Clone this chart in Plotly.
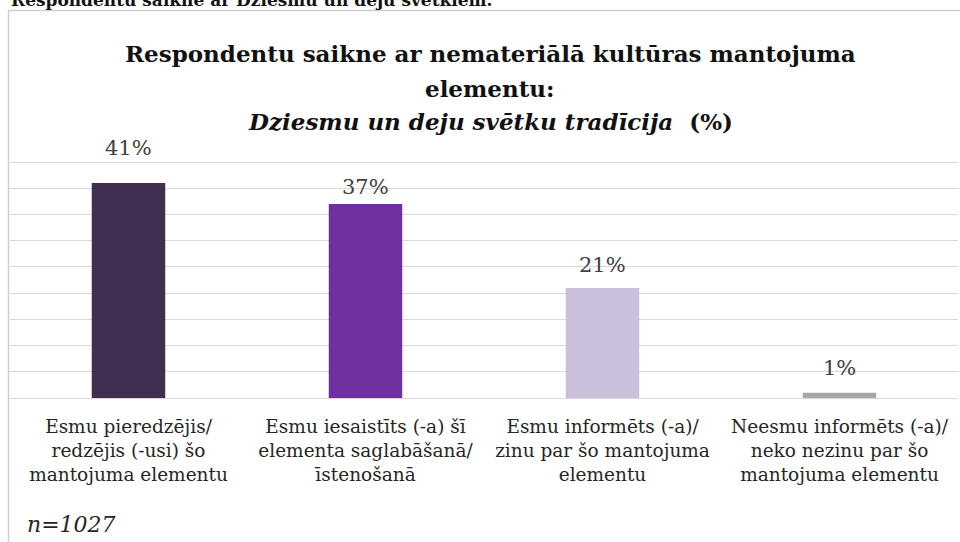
# Respondentu saikne ar nemateriālā kultūras mantojuma elementu - bar chart
import plotly.graph_objects as go

# data
categories = [
    "Esmu pieredzējis/<br>redzējis (-usi) šo<br>mantojuma elementu",
    "Esmu iesaistīts (-a) šī<br>elementa saglabāšanā/<br>īstenošanā",
    "Esmu informēts (-a)/<br>zinu par šo mantojuma<br>elementu",
    "Neesmu informēts (-a)/<br>neko nezinu par šo<br>mantojuma elementu",
]
values = [41, 37, 21, 1]
value_labels = ["41%", "37%", "21%", "1%"]
bar_colors = ["#412F52", "#7030A0", "#CBC0DC", "#A6A6A6"]

title_lines = [
    "<b>Respondentu saikne ar nemateriālā kultūras mantojuma</b>",
    "<b>elementu:</b>",
    "<b><i>Dziesmu un deju svētku tradīcija</i>  (%)</b>",
]
note_text = "<i>n=1027</i>"
cut_text = "<b>Respondentu saikne ar Dziesmu un deju svētkiem.</b>"

# label offsets above the bars (pixels), as placed in the original
label_shift = [21, 3, 9, 11]

W, H = 960, 542
ML, MR, MT, MB = 10, 2, 161, 144
PW, PH = W - ML - MR, H - MT - MB
YMAX = 45.2


def px_x(x):
    return (x - ML) / PW


def px_y(y):
    return (H - MB - y) / PH


SERIF = "DejaVu Serif"

fig = go.Figure()
fig.add_trace(go.Bar(
    x=categories,
    y=values,
    marker=dict(color=bar_colors, line=dict(width=0)),
    hoverinfo="skip",
))

annotations = []
for cat, v, lab, sh in zip(categories, values, value_labels, label_shift):
    annotations.append(dict(
        x=cat, y=v, xref="x", yref="y", text=lab, showarrow=False,
        yanchor="bottom", yshift=sh,
        font=dict(family=SERIF, size=21, color="#404040"),
    ))

title_y = [54, 88, 121]
for line, ty in zip(title_lines, title_y):
    annotations.append(dict(
        x=px_x(490), y=px_y(ty), xref="paper", yref="paper", text=line,
        showarrow=False, xanchor="center", yanchor="middle",
        font=dict(family=SERIF, size=23, color="#111111"),
    ))

annotations.append(dict(
    x=px_x(25), y=px_y(524), xref="paper", yref="paper", text=note_text,
    showarrow=False, xanchor="left", yanchor="middle",
    font=dict(family=SERIF, size=22, color="#262626"),
))

annotations.append(dict(
    x=px_x(494), y=px_y(0), xref="paper", yref="paper", text=cut_text,
    showarrow=False, xanchor="right", yanchor="middle",
    font=dict(family=SERIF, size=17, color="#111111"),
))

fig.update_layout(
    width=W, height=H,
    margin=dict(l=ML, r=MR, t=MT, b=MB),
    paper_bgcolor="white",
    plot_bgcolor="white",
    showlegend=False,
    bargap=0.69,
    annotations=annotations,
    shapes=[dict(
        type="rect", xref="paper", yref="paper",
        x0=px_x(8.5), x1=px_x(990), y0=px_y(600), y1=px_y(10.5),
        line=dict(color="#D0D0D0", width=1.5), fillcolor="rgba(0,0,0,0)",
        layer="below",
    )],
)
fig.update_xaxes(
    showgrid=False, showline=False, ticks="",
    tickfont=dict(family=SERIF, size=18.5, color="#262626"),
    ticklabelstandoff=15,
)
fig.update_yaxes(
    range=[0, YMAX], dtick=5, showgrid=True, gridcolor="#D9D9D9", gridwidth=1.2,
    zeroline=True, zerolinecolor="#D9D9D9", zerolinewidth=1.2,
    showticklabels=False, showline=False, ticks="",
)

# page body has a default 8px margin; drop it so the figure sits at 0,0
fig.write_html(
    "out.html",
    config={"displayModeBar": False},
    post_script="document.body.style.margin='0';",
)
